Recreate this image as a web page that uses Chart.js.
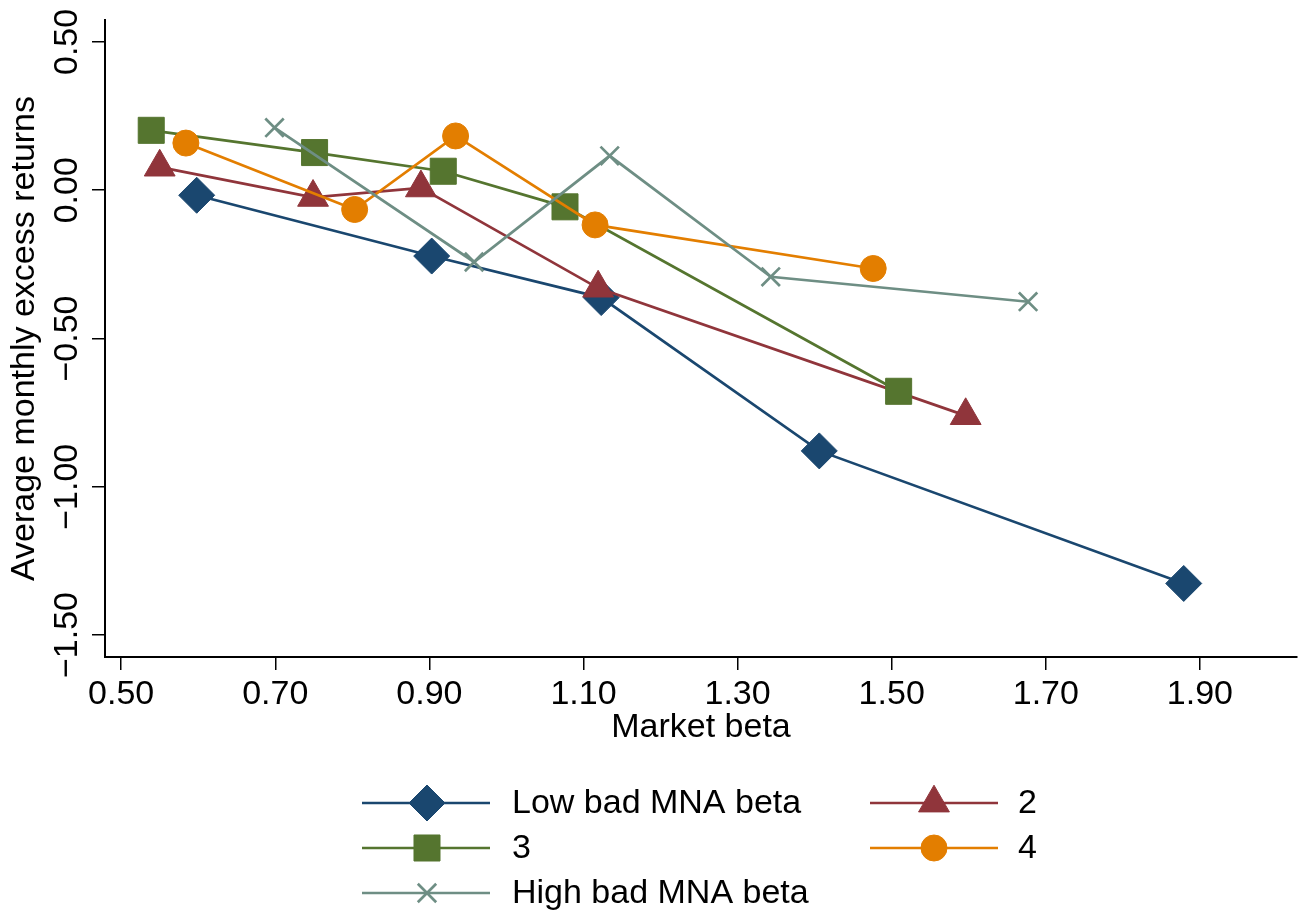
<!DOCTYPE html>
<html>
<head>
<meta charset="utf-8">
<title>Market beta vs average monthly excess returns</title>
<script src="https://cdn.jsdelivr.net/npm/chart.js@4/dist/chart.umd.min.js"></script>
<style>
  html, body { margin: 0; padding: 0; background: #fff; }
  #wrap { width: 1303px; height: 919px; }
</style>
</head>
<body>
<div id="wrap"><canvas id="chart" width="1303" height="919"></canvas></div>
<script>
// DATA
const seriesNames = ['Low bad MNA beta', '2', '3', '4', 'High bad MNA beta'];

const lowX  = [0.598, 0.903, 1.123, 1.406, 1.879];
const lowY  = [-0.017, -0.222, -0.362, -0.879, -1.326];

const q2X   = [0.550, 0.749, 0.889, 1.119, 1.596];
const q2Y   = [0.078, -0.024, 0.008, -0.330, -0.760];

const q3X   = [0.539, 0.751, 0.918, 1.076, 1.509];
const q3Y   = [0.202, 0.127, 0.064, -0.056, -0.678];

const q4X   = [0.584, 0.803, 0.934, 1.115, 1.476];
const q4Y   = [0.159, -0.065, 0.183, -0.117, -0.264];

const highX = [0.699, 0.958, 1.134, 1.343, 1.677];
const highY = [0.211, -0.242, 0.116, -0.292, -0.376];

const xTicks = [0.5, 0.7, 0.9, 1.1, 1.3, 1.5, 1.7, 1.9];
const xTickLabels = ['0.50', '0.70', '0.90', '1.10', '1.30', '1.50', '1.70', '1.90'];
const yTicks = [-1.5, -1.0, -0.5, 0.0, 0.5];
const yTickLabels = ['\u22121.50', '\u22121.00', '\u22120.50', '0.00', '0.50'];

// STYLE
const FONT = '"Liberation Sans", Arial, Helvetica, sans-serif';
const FSIZE = 34;
const colors = ['#1a476f', '#90353b', '#55752f', '#e37e00', '#6e8e84'];
const styles = ['rectRot', 'triangle', 'rect', 'circle', 'crossRot'];
const radii  = [18, 17.8, 18.4, 13, 13];
const LINE_W = 2.7;

function pts(xs, ys) {
    return xs.map((x, i) => ({ x: x, y: ys[i] }));
}

const allX = [lowX, q2X, q3X, q4X, highX];
const allY = [lowY, q2Y, q3Y, q4Y, highY];

const datasets = seriesNames.map((name, i) => ({
    label: name,
    data: pts(allX[i], allY[i]),
    showLine: true,
    tension: 0,
    borderColor: colors[i],
    backgroundColor: colors[i],
    borderWidth: LINE_W,
    pointStyle: styles[i],
    pointRadius: radii[i],
    pointBackgroundColor: colors[i],
    pointBorderColor: colors[i],
    pointBorderWidth: styles[i] === 'crossRot' ? LINE_W : 1,
    order: seriesNames.length - i,   // later series drawn on top
    clip: false
}));

// rotated y tick labels (Stata style)
const yLabelPlugin = {
    id: 'yLabels',
    afterDraw(chart) {
        const ctx = chart.ctx;
        const ys = chart.scales.y;
        ctx.save();
        ctx.font = FSIZE + 'px ' + FONT;
        ctx.fillStyle = '#000';
        ctx.textAlign = 'center';
        ctx.textBaseline = 'alphabetic';
        yTicks.forEach((v, i) => {
            const py = ys.getPixelForValue(v);
            ctx.save();
            ctx.translate(77, py);
            ctx.rotate(-Math.PI / 2);
            ctx.fillText(yTickLabels[i], 0, 0);
            ctx.restore();
        });
        ctx.restore();
    }
};

// legend: two columns, line through marker
const legendPlugin = {
    id: 'stataLegend',
    afterDraw(chart) {
        const ctx = chart.ctx;
        const cols = [{ x0: 362, x1: 490, mx: 427, tx: 512 }, { x0: 870, x1: 998, mx: 934, tx: 1018 }];
        const rows = [803, 848, 893];
        ctx.save();
        ctx.font = FSIZE + 'px ' + FONT;
        ctx.textBaseline = 'middle';
        ctx.textAlign = 'left';
        seriesNames.forEach((name, i) => {
            const c = cols[i % 2];
            const y = rows[Math.floor(i / 2)];
            ctx.strokeStyle = colors[i];
            ctx.fillStyle = colors[i];
            ctx.lineWidth = LINE_W;
            ctx.beginPath();
            ctx.moveTo(c.x0, y);
            ctx.lineTo(c.x1, y);
            ctx.stroke();
            const bw = styles[i] === 'crossRot' ? LINE_W : 1;
            ctx.lineWidth = bw;
            Chart.helpers.drawPoint(ctx, { pointStyle: styles[i], radius: radii[i], rotation: 0, borderWidth: bw }, c.mx, y);
            ctx.fillStyle = '#000';
            ctx.fillText(name, c.tx, y + 1);
        });
        ctx.restore();
    }
};

new Chart(document.getElementById('chart'), {
    type: 'scatter',
    data: { datasets: datasets },
    plugins: [yLabelPlugin, legendPlugin],
    options: {
        responsive: false,
        animation: false,
        events: [],
        layout: { autoPadding: false, padding: { top: 20, right: 6, left: 0, bottom: 0 } },
        plugins: { legend: { display: false }, tooltip: { enabled: false } },
        scales: {
            x: {
                type: 'linear',
                min: 0.479,
                max: 2.026,
                afterBuildTicks: s => { s.ticks = xTicks.map(v => ({ value: v })); },
                afterFit: s => { s.height = 262; s.paddingLeft = 0; s.paddingRight = 0; },
                grid: { drawOnChartArea: false, color: '#000', lineWidth: 1.5, tickLength: 13 },
                border: { color: '#000', width: 2 },
                ticks: {
                    autoSkip: false, maxRotation: 0, minRotation: 0, padding: 4,
                    color: '#000', font: { family: FONT, size: FSIZE },
                    callback: (v, i) => xTickLabels[i]
                },
                title: {
                    display: true, text: 'Market beta', color: '#000',
                    font: { family: FONT, size: FSIZE }, padding: { top: 0, bottom: 171 }
                }
            },
            y: {
                type: 'linear',
                min: -1.574,
                max: 0.574,
                afterBuildTicks: s => { s.ticks = yTicks.map(v => ({ value: v })); },
                afterFit: s => { s.width = 105; s.paddingTop = 0; s.paddingBottom = 0; },
                grid: { drawOnChartArea: false, color: '#000', lineWidth: 1.5, tickLength: 13 },
                border: { color: '#000', width: 2 },
                ticks: { display: false },
                title: {
                    display: true, text: 'Average monthly excess returns', color: '#000',
                    font: { family: FONT, size: FSIZE }, padding: { top: 4, bottom: 0 }
                }
            }
        }
    }
});
</script>
</body>
</html>
